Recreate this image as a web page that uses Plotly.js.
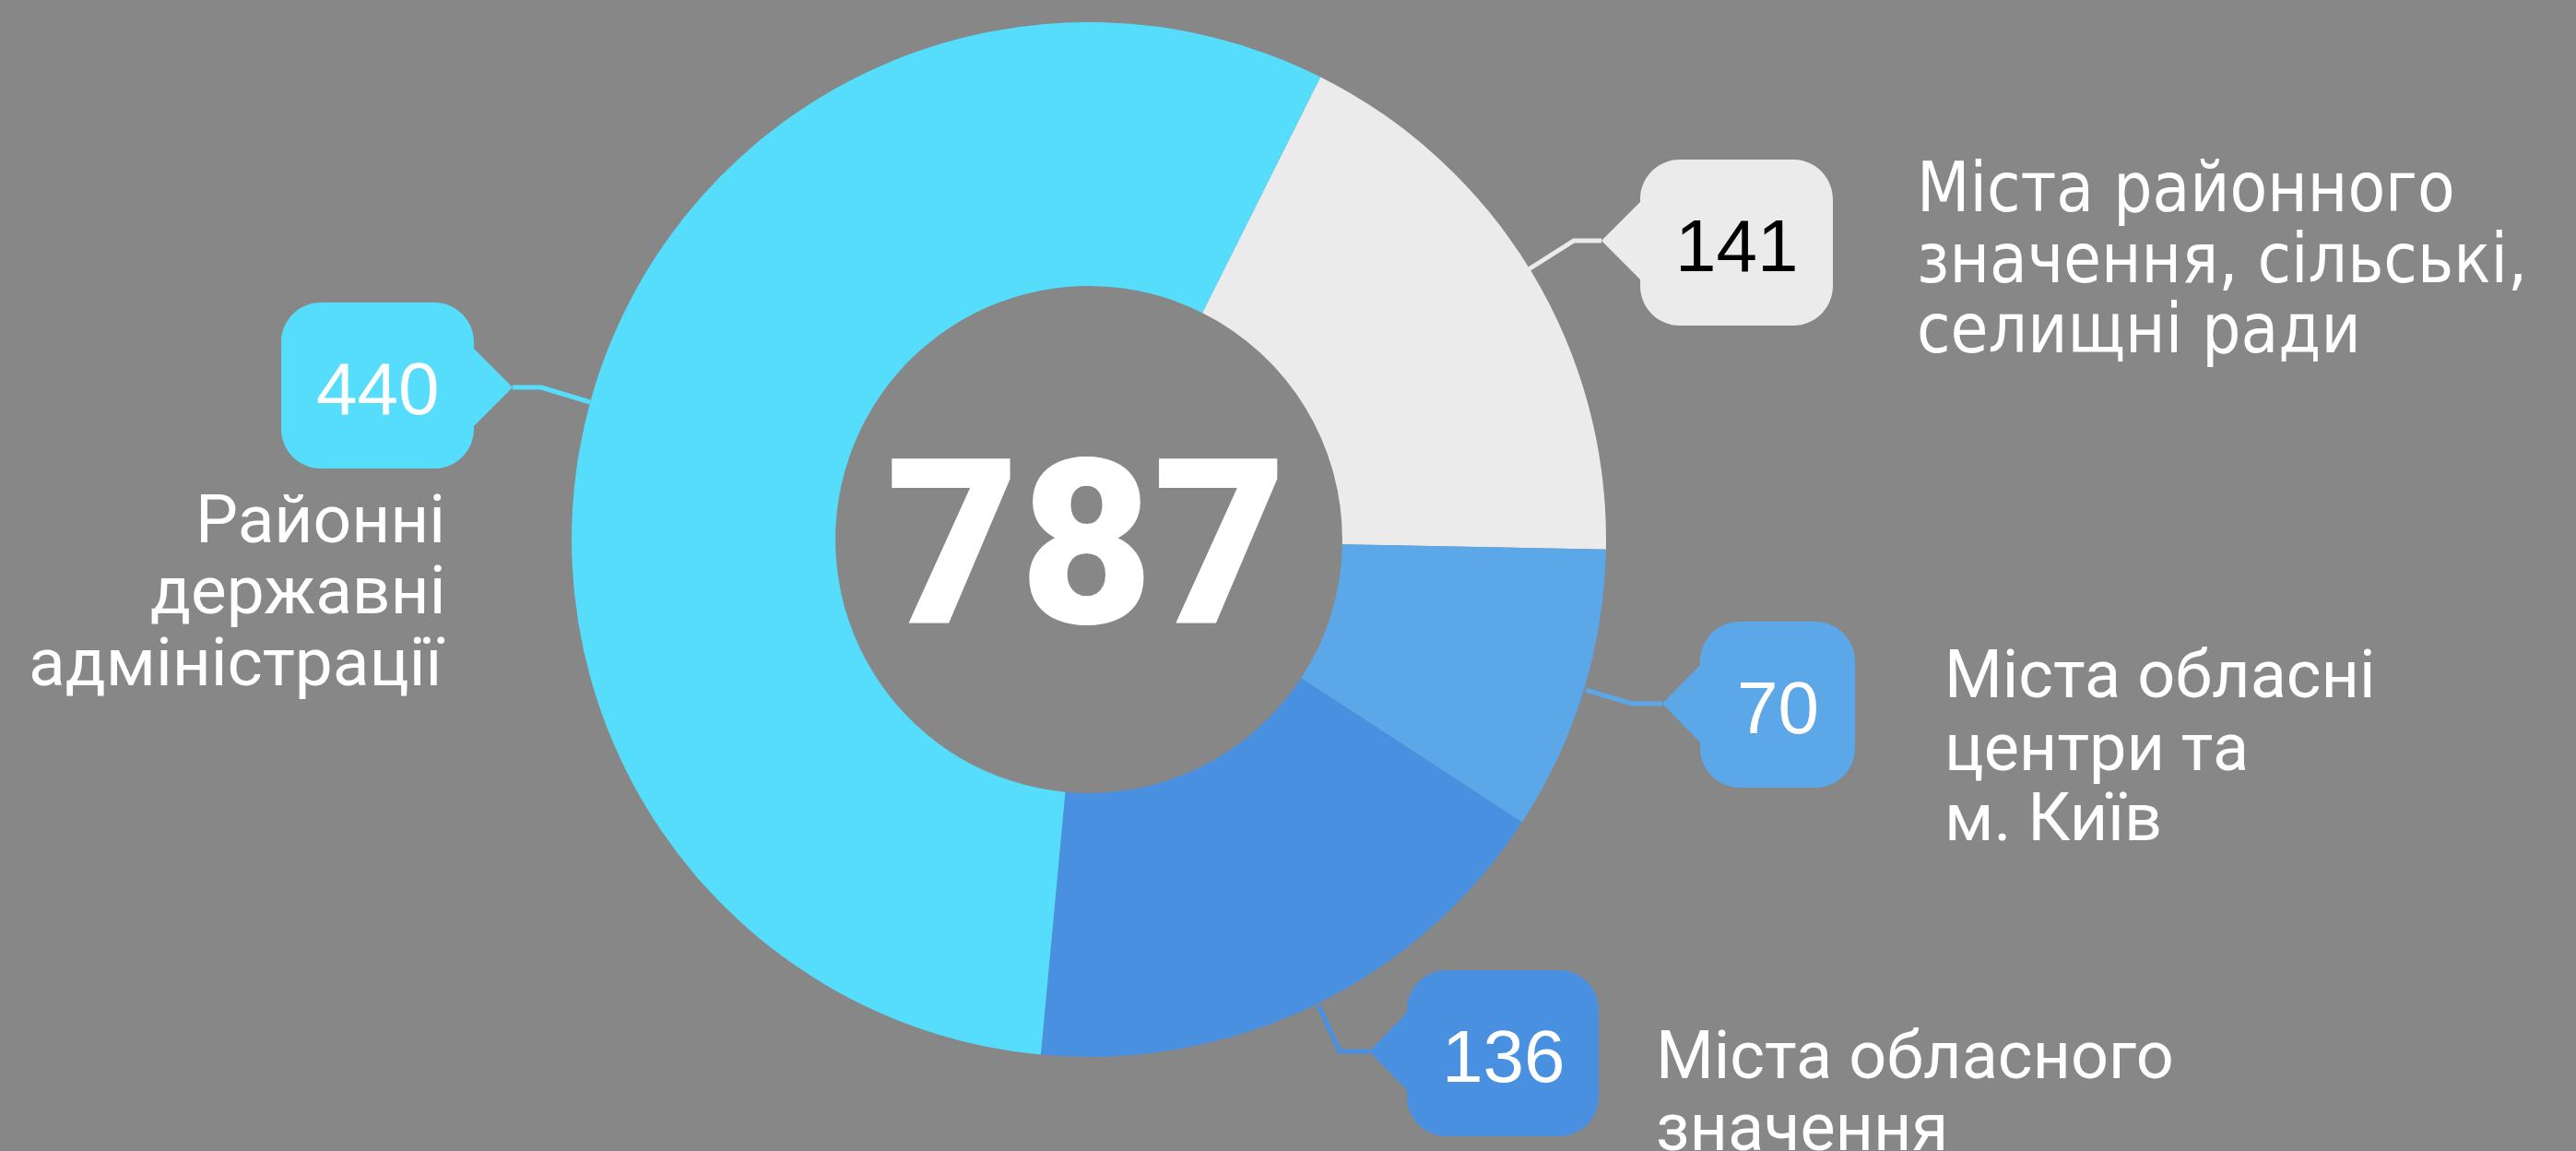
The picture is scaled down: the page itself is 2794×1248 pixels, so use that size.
<!DOCTYPE html>
<html>
<head>
<meta charset="utf-8">
<script src="https://cdn.plot.ly/plotly-3.0.1.min.js"></script>
<style>html,body{margin:0;padding:0;background:#878787;}#chart{width:2794px;height:1248px;}</style>
</head>
<body>
<div id="chart"></div>
<script>
// ---- data ----
const categories = [
  "Міста районного значення, сільські, селищні ради",
  "Міста обласні центри та м. Київ",
  "Міста обласного значення",
  "Районні державні адміністрації"
];
const values = [141, 70, 136, 440];
const labelLines = [
  ["Міста районного", "значення, сільські,", "селищні ради"],
  ["Міста обласні", "центри та", "м. Київ"],
  ["Міста обласного", "значення"],
  ["Районні", "державні", "адміністрації"]
];
const sliceColors = ["#EBEBEB", "#5CA7E8", "#4A90E1", "#56DDFB"];
const numberColors = ["#000000", "#ffffff", "#ffffff", "#ffffff"];

// ---- layout helpers (pixel -> paper) ----
const W = 2794, H = 1248;
const PX = x => x / W;
const PY = y => 1 - y / H;
const pt = (x, y) => PX(x).toFixed(6) + "," + PY(y).toFixed(6);

// callout geometry (pixels)
const callouts = [
  {L:1779, T:173, R:1988, B:353, tip:[1737,261], leader:[[1737,261],[1707,261],[1658,292]]},
  {L:1844, T:674, R:2012, B:854, tip:[1803,763], leader:[[1803,763],[1770,763],[1720,748]]},
  {L:1526, T:1052, R:1734, B:1232, tip:[1485,1140], leader:[[1485,1140],[1453,1140],[1430,1090]]},
  {L:305, T:328, R:514, B:508, tip:[556,420], leader:[[556,420],[587,420],[640,436]], right:true}
];
// label text placement (pixels)
const labelPos = [
  {x:2077, anchor:"left", base:[230, 307, 383], font:"DejaVu Sans Condensed, Roboto, sans-serif", size:74},
  {x:2107, anchor:"left", base:[758, 837, 913], font:"Roboto", size:72},
  {x:1794, anchor:"left", base:[1171, 1249], font:"Roboto", size:72},
  {x:485, anchor:"right", base:[590, 667, 745], font:"Roboto", size:73}
];

function calloutPath(c) {
  const r = 43, k = 0.5523 * r, h = 42;
  const {L, T, R, B} = c;
  const [tx, ty] = c.tip;
  let d = "M" + pt(L + r, T);
  d += " L" + pt(R - r, T);
  d += " C" + pt(R - r + k, T) + " " + pt(R, T + r - k) + " " + pt(R, T + r);
  if (c.right) d += " L" + pt(R, ty - h) + " L" + pt(tx, ty) + " L" + pt(R, ty + h);
  d += " L" + pt(R, B - r);
  d += " C" + pt(R, B - r + k) + " " + pt(R - r + k, B) + " " + pt(R - r, B);
  d += " L" + pt(L + r, B);
  d += " C" + pt(L + r - k, B) + " " + pt(L, B - r + k) + " " + pt(L, B - r);
  if (!c.right) d += " L" + pt(L, ty + h) + " L" + pt(tx, ty) + " L" + pt(L, ty - h);
  d += " L" + pt(L, T + r);
  d += " C" + pt(L, T + r - k) + " " + pt(L + r - k, T) + " " + pt(L + r, T);
  d += " Z";
  return d;
}

const shapes = [];
const annotations = [];
callouts.forEach((c, i) => {
  shapes.push({type: "path", xref: "paper", yref: "paper", path: calloutPath(c),
    fillcolor: sliceColors[i], line: {width: 0}, layer: "above"});
  shapes.push({type: "path", xref: "paper", yref: "paper",
    path: "M" + c.leader.map(p => pt(p[0], p[1])).join(" L"),
    fillcolor: "rgba(0,0,0,0)", line: {width: 5, color: sliceColors[i]}, layer: "above"});
  annotations.push({xref: "paper", yref: "paper", x: PX((c.L + c.R) / 2), y: PY((c.T + c.B) / 2 + 3),
    xanchor: "center", yanchor: "middle", showarrow: false, text: String(values[i]),
    font: {family: "Liberation Sans, Arial, sans-serif", size: 80, color: numberColors[i]}});
});
labelLines.forEach((lines, i) => {
  const lp = labelPos[i];
  lines.forEach((ln, j) => {
    annotations.push({xref: "paper", yref: "paper", x: PX(lp.x), y: PY(lp.base[j] - 27),
      xanchor: lp.anchor, yanchor: "middle", showarrow: false, text: ln,
      font: {family: lp.font, size: lp.size, color: "#ffffff"}});
  });
});
const total = values.reduce((a, b) => a + b, 0);
annotations.push({xref: "paper", yref: "paper", x: PX(1178), y: PY(590),
  xanchor: "center", yanchor: "middle", showarrow: false, text: String(total),
  font: {family: "Roboto, Liberation Sans, sans-serif", size: 250, weight: 900, color: "#ffffff"}});

const trace = {
  type: "pie",
  labels: categories,
  values: values,
  hole: 0.49,
  sort: false,
  direction: "clockwise",
  rotation: 26.6,
  marker: {colors: sliceColors, line: {width: 0}},
  textinfo: "none",
  hoverinfo: "none",
  domain: {x: [PX(620), PX(1742)], y: [PY(1146), PY(24)]}
};

const layout = {
  width: W, height: H,
  margin: {l: 0, r: 0, t: 0, b: 0},
  paper_bgcolor: "#878787",
  plot_bgcolor: "#878787",
  showlegend: false,
  shapes: shapes,
  annotations: annotations
};

Plotly.newPlot("chart", [trace], layout, {displayModeBar: false, staticPlot: true});
</script>
</body>
</html>
